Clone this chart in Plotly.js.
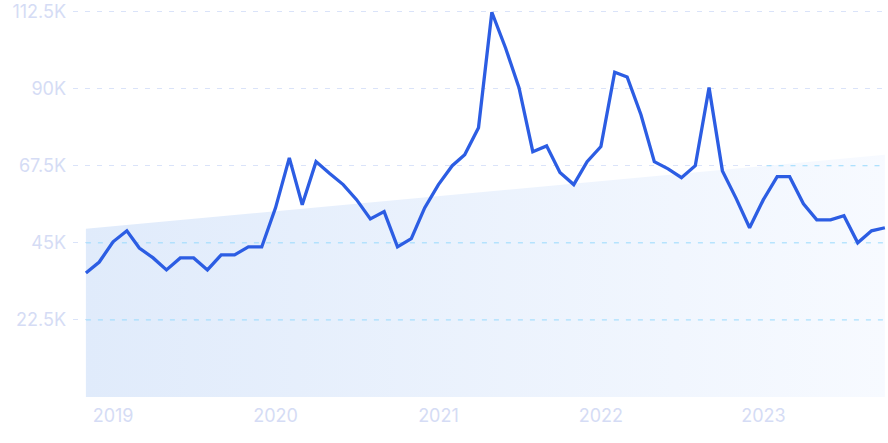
<!DOCTYPE html>
<html>
<head>
<meta charset="utf-8">
<script src="https://cdn.plot.ly/plotly-3.0.1.min.js"></script>
<style>html,body{margin:0;padding:0;background:#fff;}#chart{width:888px;height:443px;}</style>
</head>
<body>
<div id="chart"></div>
<script>
// Monthly values, Nov 2018 .. Oct 2023
const months = [
 '2018-11-01','2018-12-01',
 '2019-01-01','2019-02-01','2019-03-01','2019-04-01','2019-05-01','2019-06-01','2019-07-01','2019-08-01','2019-09-01','2019-10-01','2019-11-01','2019-12-01',
 '2020-01-01','2020-02-01','2020-03-01','2020-04-01','2020-05-01','2020-06-01','2020-07-01','2020-08-01','2020-09-01','2020-10-01','2020-11-01','2020-12-01',
 '2021-01-01','2021-02-01','2021-03-01','2021-04-01','2021-05-01','2021-06-01','2021-07-01','2021-08-01','2021-09-01','2021-10-01','2021-11-01','2021-12-01',
 '2022-01-01','2022-02-01','2022-03-01','2022-04-01','2022-05-01','2022-06-01','2022-07-01','2022-08-01','2022-09-01','2022-10-01','2022-11-01','2022-12-01',
 '2023-01-01','2023-02-01','2023-03-01','2023-04-01','2023-05-01','2023-06-01','2023-07-01','2023-08-01','2023-09-01','2023-10-01'
];
const values = [
 36200, 39400,
 45300, 48500, 43500, 40600, 37100, 40600, 40600, 37100, 41500, 41500, 43800, 43800,
 55200, 69800, 56100, 68700, 65300, 62000, 57600, 52000, 54100, 43800, 46200, 55200,
 62000, 67500, 70700, 78600, 112300, 101800, 90300, 71600, 73300, 65500, 62000, 68700,
 73100, 94800, 93400, 82400, 68700, 66600, 64000, 67500, 90300, 66000, 57900, 49400,
 57600, 64300, 64300, 56400, 51700, 51700, 52900, 45000, 48500, 49400
];
// Trend band (start, end)
const trendX = ['2018-11-01', '2023-10-01'];
const trendY = [49100, 70700];

const yTickVals = [22500, 45000, 67500, 90000, 112500];
const yTickText = ['22.5K', '45K', '67.5K', '90K', '112.5K'];
const xTickVals = ['2019-01-01','2020-01-01','2021-01-01','2022-01-01','2023-01-01'];
const xTickText = ['2019','2020','2021','2022','2023'];

const traces = [];
traces.push({
  x: trendX, y: trendY, type: 'scatter', mode: 'lines',
  line: {width: 0, color: 'rgba(0,0,0,0)'},
  fill: 'tozeroy',
  fillgradient: {type: 'horizontal', colorscale: [[0, '#e0ebfb'], [1, '#f7faff']]},
  hoverinfo: 'skip', showlegend: false
});

// Gridline portions lying inside the trend band (drawn in cyan)
const t0 = new Date(trendX[0]).getTime(), t1 = new Date(trendX[1]).getTime();
yTickVals.forEach(v => {
  const lo = Math.min(trendY[0], trendY[1]), hi = Math.max(trendY[0], trendY[1]);
  if (v >= hi) return;
  let xs, xe;
  if (v <= lo) { xs = t0; xe = t1; }
  else {
    const f = (v - trendY[0]) / (trendY[1] - trendY[0]);
    const tc = t0 + f * (t1 - t0);
    if (trendY[1] > trendY[0]) { xs = tc; xe = t1; } else { xs = t0; xe = tc; }
  }
  traces.push({
    x: [new Date(xs).toISOString(), new Date(xe).toISOString()], y: [v, v],
    type: 'scatter', mode: 'lines',
    line: {color: '#98dafd', width: 1, dash: '5px,7px'},
    hoverinfo: 'skip', showlegend: false
  });
});

traces.push({
  x: months, y: values, type: 'scatter', mode: 'lines',
  line: {color: '#2c5de3', width: 3.3},
  hoverinfo: 'skip', showlegend: false
});

const tickFont = {family: 'Inter, "Noto Sans", sans-serif', size: 18, color: '#d5dcf5'};
const layout = {
  width: 888, height: 443,
  margin: {l: 73, r: 0, t: 3, b: 46},
  paper_bgcolor: '#ffffff', plot_bgcolor: '#ffffff',
  showlegend: false,
  xaxis: {
    type: 'date', range: ['2018-10-03', '2023-10-08'],
    tickvals: xTickVals, ticktext: xTickText,
    showgrid: false, zeroline: false, showline: false, ticks: '',
    tickfont: tickFont, ticklabelstandoff: 6
  },
  yaxis: {
    range: [0, 115000],
    tickvals: yTickVals, ticktext: yTickText,
    showgrid: true, gridcolor: '#dae3f9', gridwidth: 1, griddash: '5px,7px',
    zeroline: false, showline: false, ticks: '',
    tickfont: tickFont, ticklabelstandoff: 6
  }
};
Plotly.newPlot('chart', traces, layout, {displayModeBar: false, staticPlot: true});
</script>
</body>
</html>
